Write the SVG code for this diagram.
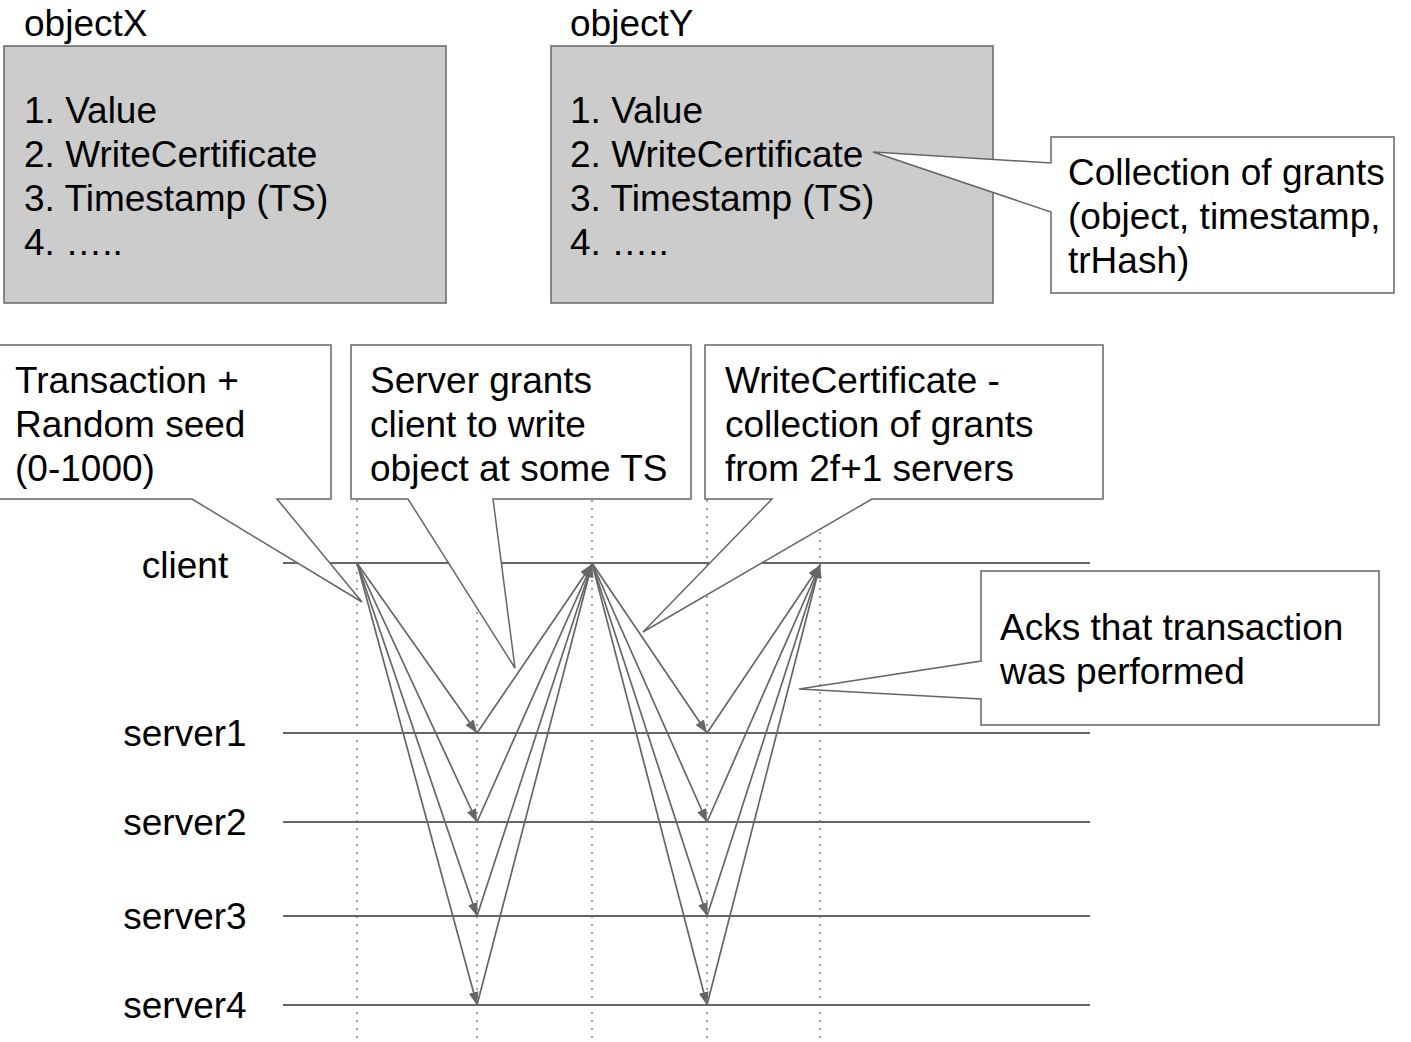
<svg xmlns="http://www.w3.org/2000/svg" width="1411" height="1042" viewBox="0 0 1411 1042">
  <style>
    text { font-family: "Liberation Sans", Arial, sans-serif; font-size: 37px; fill: #000; }
    .obj { fill: #cccccc; stroke: #666666; stroke-width: 1.5; }
    .note { fill: #ffffff; stroke: #666666; stroke-width: 1.5; stroke-linejoin: miter; }
    .life { stroke: #666666; stroke-width: 2; fill: none; }
    .tick { stroke: #8a8a8a; stroke-width: 1.6; stroke-dasharray: 2 6; fill: none; }
    .msg { stroke: #666666; stroke-width: 1.7; fill: none; marker-end: url(#head); }
  </style>
  <defs>
    <marker id="head" markerUnits="userSpaceOnUse" markerWidth="14" markerHeight="11" refX="13" refY="5" orient="auto">
      <path d="M0,0 L13,5 L0,10 z" fill="#666666"/>
    </marker>
  </defs>

  <rect width="1411" height="1042" fill="#ffffff"/>

  <!-- time ticks -->
  <g id="ticks">
    <line class="tick" x1="357" y1="500" x2="357" y2="1042"/>
    <line class="tick" x1="477" y1="500" x2="477" y2="1042"/>
    <line class="tick" x1="592" y1="500" x2="592" y2="1042"/>
    <line class="tick" x1="707" y1="500" x2="707" y2="1042"/>
    <line class="tick" x1="820" y1="500" x2="820" y2="1042"/>
  </g>

  <!-- participants -->
  <g id="client">
    <text x="185" y="578" text-anchor="middle">client</text>
    <line class="life" x1="283" y1="563" x2="1090" y2="563"/>
  </g>
  <g id="server1">
    <text x="185" y="746" text-anchor="middle">server1</text>
    <line class="life" x1="283" y1="733" x2="1090" y2="733"/>
  </g>
  <g id="server2">
    <text x="185" y="835" text-anchor="middle">server2</text>
    <line class="life" x1="283" y1="822" x2="1090" y2="822"/>
  </g>
  <g id="server3">
    <text x="185" y="929" text-anchor="middle">server3</text>
    <line class="life" x1="283" y1="916" x2="1090" y2="916"/>
  </g>
  <g id="server4">
    <text x="185" y="1018" text-anchor="middle">server4</text>
    <line class="life" x1="283" y1="1005" x2="1090" y2="1005"/>
  </g>

  <!-- stored objects -->
  <g id="objectX">
    <text x="24" y="36">objectX</text>
    <rect class="obj" x="4" y="46" width="442" height="257"/>
    <text x="24" y="123">1. Value</text>
    <text x="24" y="167">2. WriteCertificate</text>
    <text x="24" y="211">3. Timestamp (TS)</text>
    <text x="24" y="255">4. …..</text>
  </g>
  <g id="objectY">
    <text x="570" y="36">objectY</text>
    <rect class="obj" x="551" y="46" width="442" height="257"/>
    <text x="570" y="123">1. Value</text>
    <text x="570" y="167">2. WriteCertificate</text>
    <text x="570" y="211">3. Timestamp (TS)</text>
    <text x="570" y="255">4. …..</text>
  </g>

  <!-- callouts -->
  <g id="note-grants">
    <path class="note" d="M1051,137 L1394,137 L1394,293 L1051,293 L1051,212 L873,152 L1051,163 Z"/>
    <text x="1068" y="185">Collection of grants</text>
    <text x="1068" y="229">(object, timestamp,</text>
    <text x="1068" y="273">trHash)</text>
  </g>
  <g id="note-transaction">
    <path class="note" d="M-2,345 L331,345 L331,499 L277,499 L362,602 L192,499 L-2,499 Z"/>
    <text x="15" y="393">Transaction +</text>
    <text x="15" y="437">Random seed</text>
    <text x="15" y="481">(0-1000)</text>
  </g>
  <g id="note-grant">
    <path class="note" d="M351,345 L691,345 L691,499 L493,499 L515,668 L408,499 L351,499 Z"/>
    <text x="370" y="393">Server grants</text>
    <text x="370" y="437">client to write</text>
    <text x="370" y="481">object at some TS</text>
  </g>
  <g id="note-certificate">
    <path class="note" d="M705,345 L1103,345 L1103,499 L872,499 L643,632 L772,499 L705,499 Z"/>
    <text x="725" y="393">WriteCertificate -</text>
    <text x="725" y="437">collection of grants</text>
    <text x="725" y="481">from 2f+1 servers</text>
  </g>
  <g id="note-acks">
    <path class="note" d="M981,571 L1379,571 L1379,725 L981,725 L981,699 L799,689 L981,661 Z"/>
    <text x="1000" y="640">Acks that transaction</text>
    <text x="1000" y="684">was performed</text>
  </g>

  <!-- messages -->
  <g id="connectors">
    <!-- transaction + seed to every server -->
    <line class="msg" x1="357" y1="563" x2="477" y2="733"/>
    <line class="msg" x1="357" y1="563" x2="477" y2="822"/>
    <line class="msg" x1="357" y1="563" x2="477" y2="916"/>
    <line class="msg" x1="357" y1="563" x2="477" y2="1005"/>
    <!-- grants back to the client -->
    <line class="msg" x1="477" y1="733" x2="592" y2="564"/>
    <line class="msg" x1="477" y1="822" x2="592" y2="564"/>
    <line class="msg" x1="477" y1="916" x2="592" y2="564"/>
    <line class="msg" x1="477" y1="1005" x2="592" y2="564"/>
    <!-- write certificate to every server -->
    <line class="msg" x1="592" y1="563" x2="707" y2="733"/>
    <line class="msg" x1="592" y1="563" x2="707" y2="822"/>
    <line class="msg" x1="592" y1="563" x2="707" y2="916"/>
    <line class="msg" x1="592" y1="563" x2="707" y2="1005"/>
    <!-- acks back to the client -->
    <line class="msg" x1="707" y1="733" x2="820" y2="565"/>
    <line class="msg" x1="707" y1="822" x2="820" y2="565"/>
    <line class="msg" x1="707" y1="916" x2="820" y2="565"/>
    <line class="msg" x1="707" y1="1005" x2="820" y2="565"/>
  </g>
</svg>
